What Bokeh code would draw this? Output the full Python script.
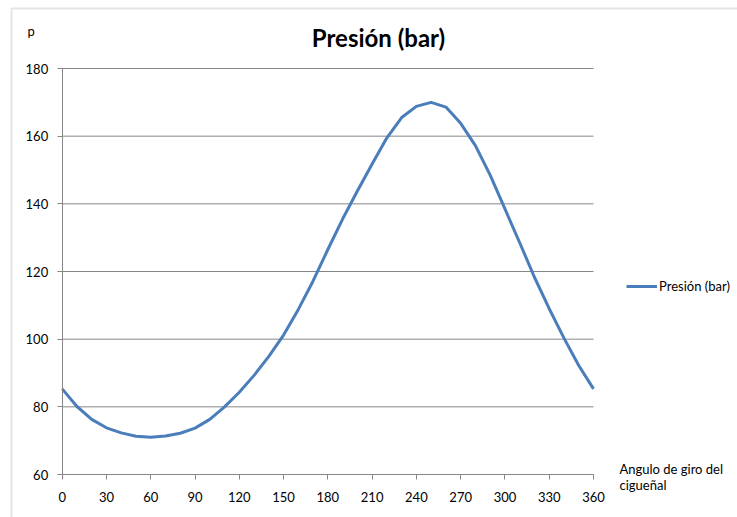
from bokeh.plotting import figure
from bokeh.models import (Range1d, FixedTicker, Label, Legend, LegendItem,
                          BoxAnnotation)
from bokeh.embed import file_html
from bokeh.resources import INLINE

# ---- data ----
angle = [0, 10, 20, 30, 40, 50, 60, 70, 80, 90, 100, 110, 120, 130, 140,
         150, 160, 170, 180, 190, 200, 210, 220, 230, 240, 250, 260, 270,
         280, 290, 300, 310, 320, 330, 340, 350, 360]
pressure = [85.3, 80.1, 76.3, 73.8, 72.3, 71.3, 71.0, 71.4, 72.2, 73.7,
            76.3, 80.0, 84.3, 89.3, 94.9, 101.2, 108.8, 117.2, 126.5, 135.5,
            143.8, 151.8, 159.5, 165.5, 168.8, 170.0, 168.6, 163.8, 157.2,
            148.5, 138.5, 128.5, 118.3, 109.0, 100.3, 92.2, 85.3]
x_ticks = [0, 30, 60, 90, 120, 150, 180, 210, 240, 270, 300, 330, 360]
y_ticks = [60, 80, 100, 120, 140, 160, 180]
title_text = "Presión (bar)"
series_name = "Presión (bar)"
y_title = "p"
x_title_1 = "Angulo de giro del"
x_title_2 = "cigueñal"

FONT = "Lato"
GRID = "#868686"
BLUE = "#4A7EBB"

W, H = 737, 517
# plot-area placement inside the canvas (pixels)
PL, PR, PT, PB = 61.7, 593.0, 68.0, 474.0
x0, x1 = x_ticks[0], x_ticks[-1]
y0, y1 = y_ticks[0], y_ticks[-1]
kx = (PR - PL) / (x1 - x0)
ky = (PB - PT) / (y1 - y0)
xr = Range1d(x0 - PL / kx, x1 + (W - PR) / kx)
yr = Range1d(y0 - (H - PB) / ky, y1 + PT / ky)

p = figure(width=W, height=H, output_backend="svg", toolbar_location=None,
           x_range=xr, y_range=yr, min_border=0)
p.title.visible = False
p.outline_line_color = None
p.background_fill_color = "white"
p.border_fill_color = "white"

# axes, fixed at the plot-area edges
p.xaxis.fixed_location = y0
p.yaxis.fixed_location = x0
p.xaxis.bounds = (x0, x1)
p.yaxis.bounds = (y0, y1)
for ax in (p.xaxis[0], p.yaxis[0]):
    ax.axis_line_color = GRID
    ax.major_tick_line_color = GRID
    ax.minor_tick_line_color = None
    ax.major_tick_out = 5
    ax.major_tick_in = 0
    ax.major_label_text_font = FONT
    ax.major_label_text_font_size = "13px"
    ax.major_label_text_color = "#000000"
p.xaxis.ticker = FixedTicker(ticks=x_ticks)
p.yaxis.ticker = FixedTicker(ticks=y_ticks)
p.xaxis.major_label_standoff = 12
p.yaxis.major_label_standoff = 9

# horizontal gridlines over the plot area only
p.xgrid.visible = False
p.ygrid.visible = False
gy = y_ticks[1:]
p.segment(x0=[x0] * len(gy), x1=[x1] * len(gy), y0=gy, y1=gy,
          line_color=GRID, line_width=1)

r = p.line(angle, pressure, line_color=BLUE, line_width=3,
           line_join="round")

# legend
legend = Legend(items=[LegendItem(label=series_name, renderers=[r])],
                location=(626, H - 296), padding=0, margin=0, glyph_width=31,
                glyph_height=20, label_height=20, label_standoff=2,
                border_line_alpha=0, background_fill_alpha=0,
                label_text_font=FONT, label_text_font_size="13px",
                label_text_color="#000000")
p.add_layout(legend, "center")

# chart border
p.add_layout(BoxAnnotation(left=11, right=W + 50, top=8, bottom=H + 50,
                           left_units="canvas", right_units="canvas",
                           top_units="canvas", bottom_units="canvas",
                           fill_alpha=0, line_color="#a6a6a6", line_width=2))

def add_label(x, y, text, size, align="left", style="normal"):
    p.add_layout(Label(x=x, y=y, x_units="canvas", y_units="canvas",
                       text=text, text_font=FONT, text_font_size=size,
                       text_font_style=style, text_baseline="middle",
                       text_align=align, text_color="#000000"))

add_label(378, 37, title_text, "24px", align="center", style="bold")
add_label(27, 30, y_title, "13px")
add_label(619, 468, x_title_1, "13px")
add_label(619, 484, x_title_2, "13px")

open("out.html", "w").write(file_html(p, INLINE))
